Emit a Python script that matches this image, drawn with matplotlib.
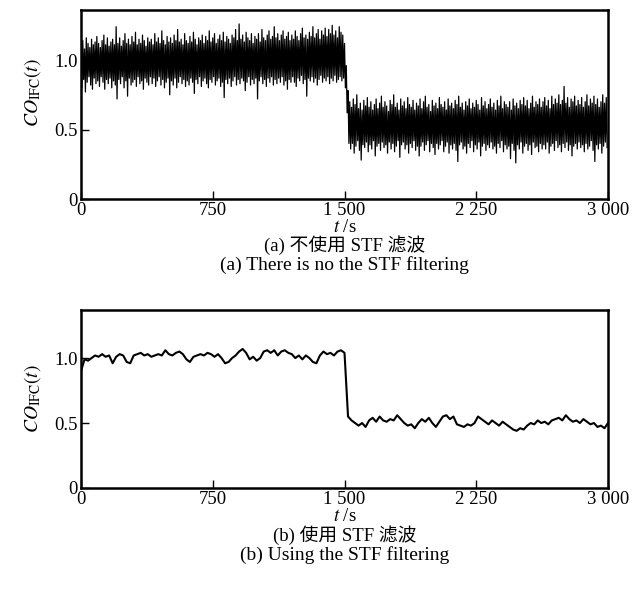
import matplotlib

matplotlib.use("Agg")
import matplotlib.pyplot as plt
import numpy as np

plt.rcParams["font.family"] = ["Liberation Serif", "Noto Sans CJK SC"]
plt.rcParams["mathtext.fontset"] = "stix"

# raw CO_IFC(t): upper / lower extent of the trace in consecutive 10 s bins
BIN = 10.0
raw_hi = [
    # 0 - 1490 s
    1.10, 1.14, 1.08, 1.16, 1.12, 1.09, 1.15, 1.11, 1.13, 1.17,
    1.12, 1.09, 1.14, 1.18, 1.11, 1.16, 1.10, 1.13, 1.15, 1.11,
    1.24, 1.12, 1.16, 1.10, 1.14, 1.19, 1.12, 1.15, 1.11, 1.17,
    1.13, 1.20, 1.11, 1.15, 1.12, 1.18, 1.14, 1.10, 1.16, 1.13,
    1.15, 1.11, 1.19, 1.13, 1.16, 1.12, 1.21, 1.14, 1.11, 1.17,
    1.13, 1.16, 1.12, 1.18, 1.14, 1.22, 1.13, 1.15, 1.11, 1.19,
    1.14, 1.12, 1.17, 1.13, 1.20, 1.15, 1.11, 1.16, 1.14, 1.18,
    1.12, 1.17, 1.14, 1.21, 1.13, 1.16, 1.19, 1.12, 1.15, 1.18,
    1.14, 1.20, 1.13, 1.17, 1.15, 1.12, 1.18, 1.16, 1.22, 1.14,
    1.26, 1.15, 1.18, 1.13, 1.20, 1.16, 1.14, 1.19, 1.12, 1.17,
    1.15, 1.19, 1.13, 1.22, 1.16, 1.14, 1.18, 1.21, 1.15, 1.17,
    1.24, 1.16, 1.19, 1.14, 1.18, 1.21, 1.15, 1.17, 1.20, 1.14,
    1.18, 1.15, 1.21, 1.17, 1.14, 1.19, 1.23, 1.16, 1.18, 1.15,
    1.20, 1.17, 1.24, 1.16, 1.19, 1.22, 1.15, 1.21, 1.18, 1.23,
    1.17, 1.22, 1.19, 1.25, 1.18, 1.21, 1.16, 1.24, 1.20, 1.18,
    # 1500 - 1520 s
    1.12, 0.96, 0.78,
    # 1530 - 2990 s
    0.70, 0.66, 0.72, 0.68, 0.75, 0.65, 0.69, 0.64, 0.71, 0.67,
    0.73, 0.66, 0.70, 0.64, 0.68, 0.72, 0.65, 0.69, 0.74, 0.66,
    0.70, 0.67, 0.63, 0.71, 0.68, 0.75, 0.66, 0.69, 0.64, 0.72,
    0.67, 0.70, 0.65, 0.73, 0.68, 0.66, 0.71, 0.64, 0.69, 0.67,
    0.72, 0.65, 0.70, 0.74, 0.66, 0.68, 0.63, 0.71, 0.67, 0.69,
    0.65, 0.73, 0.68, 0.66, 0.70, 0.64, 0.72, 0.67, 0.69, 0.65,
    0.71, 0.68, 0.74, 0.66, 0.69, 0.64, 0.70, 0.67, 0.72, 0.65,
    0.69, 0.66, 0.71, 0.68, 0.64, 0.73, 0.67, 0.70, 0.65, 0.68,
    0.72, 0.66, 0.69, 0.64, 0.71, 0.67, 0.74, 0.65, 0.70, 0.68,
    0.66, 0.70, 0.64, 0.72, 0.67, 0.69, 0.65, 0.71, 0.68, 0.73,
    0.67, 0.71, 0.65, 0.69, 0.74, 0.66, 0.70, 0.68, 0.72, 0.66,
    0.70, 0.73, 0.67, 0.71, 0.65, 0.74, 0.68, 0.72, 0.69, 0.75,
    0.68, 0.71, 0.81, 0.69, 0.73, 0.66, 0.72, 0.70, 0.74, 0.67,
    0.71, 0.68, 0.73, 0.66, 0.70, 0.75, 0.67, 0.72, 0.69, 0.74,
    0.68, 0.72, 0.66, 0.70, 0.75, 0.69, 0.73,
]
raw_lo = [
    # 0 - 1490 s
    0.80, 0.86, 0.77, 0.84, 0.88, 0.82, 0.79, 0.87, 0.83, 0.85,
    0.81, 0.88, 0.84, 0.79, 0.86, 0.83, 0.87, 0.80, 0.85, 0.82,
    0.72, 0.86, 0.83, 0.88, 0.80, 0.85, 0.74, 0.87, 0.82, 0.84,
    0.86, 0.81, 0.88, 0.83, 0.85, 0.79, 0.87, 0.84, 0.82, 0.88,
    0.83, 0.87, 0.81, 0.85, 0.88, 0.82, 0.86, 0.80, 0.84, 0.87,
    0.75, 0.85, 0.82, 0.87, 0.80, 0.84, 0.88, 0.83, 0.86, 0.81,
    0.85, 0.82, 0.87, 0.84, 0.76, 0.86, 0.83, 0.88, 0.81, 0.85,
    0.87, 0.83, 0.80, 0.86, 0.84, 0.88, 0.82, 0.85, 0.87, 0.81,
    0.84, 0.73, 0.86, 0.83, 0.87, 0.81, 0.85, 0.88, 0.82, 0.86,
    0.83, 0.87, 0.85, 0.78, 0.84, 0.88, 0.82, 0.86, 0.83, 0.87,
    0.72, 0.85, 0.88, 0.83, 0.86, 0.81, 0.87, 0.84, 0.88, 0.82,
    0.86, 0.83, 0.87, 0.84, 0.88, 0.82, 0.85, 0.79, 0.86, 0.84,
    0.88, 0.84, 0.81, 0.87, 0.85, 0.89, 0.83, 0.86, 0.74, 0.87,
    0.85, 0.88, 0.84, 0.87, 0.82, 0.86, 0.89, 0.84, 0.87, 0.85,
    0.88, 0.83, 0.87, 0.85, 0.89, 0.84, 0.86, 0.88, 0.85, 0.87,
    # 1500 - 1520 s
    0.80, 0.62, 0.40,
    # 1530 - 2990 s
    0.36, 0.40, 0.33, 0.38, 0.42, 0.35, 0.28, 0.39, 0.37, 0.41,
    0.34, 0.39, 0.36, 0.42, 0.31, 0.38, 0.40, 0.35, 0.41, 0.37,
    0.39, 0.33, 0.41, 0.36, 0.40, 0.34, 0.38, 0.42, 0.30, 0.39,
    0.41, 0.36, 0.39, 0.33, 0.40, 0.37, 0.42, 0.35, 0.38, 0.31,
    0.38, 0.41, 0.35, 0.39, 0.42, 0.34, 0.40, 0.37, 0.32, 0.40,
    0.36, 0.39, 0.42, 0.34, 0.38, 0.41, 0.33, 0.39, 0.36, 0.40,
    0.35, 0.27, 0.39, 0.41, 0.36, 0.38, 0.33, 0.40, 0.37, 0.42,
    0.34, 0.39, 0.36, 0.41, 0.31, 0.38, 0.40, 0.35, 0.39, 0.37,
    0.41, 0.36, 0.38, 0.33, 0.40, 0.37, 0.42, 0.34, 0.39, 0.36,
    0.38, 0.29, 0.40, 0.35, 0.26, 0.39, 0.36, 0.41, 0.33, 0.38,
    0.40, 0.35, 0.39, 0.32, 0.41, 0.37, 0.38, 0.34, 0.40, 0.36,
    0.39, 0.36, 0.41, 0.33, 0.38, 0.40, 0.35, 0.42, 0.37, 0.39,
    0.34, 0.40, 0.37, 0.41, 0.35, 0.39, 0.31, 0.38, 0.40, 0.36,
    0.41, 0.37, 0.39, 0.34, 0.40, 0.36, 0.38, 0.42, 0.35, 0.27,
    0.39, 0.36, 0.40, 0.33, 0.38, 0.41, 0.37,
]

# STF-filtered CO_IFC(t), one sample every 20 s from 0 to 3000 s
STEP = 20.0
filtered = [
    0.90, 0.99, 0.98, 1.00, 1.02, 1.01, 1.03, 1.01, 1.02, 0.96,
    1.01, 1.03, 1.02, 0.97, 0.96, 1.02, 1.03, 1.04, 1.02, 1.03,
    1.01, 1.02, 1.03, 1.02, 1.06, 1.03, 1.02, 1.04, 1.05, 1.03,
    0.99, 0.97, 1.01, 1.02, 1.03, 1.02, 1.04, 1.03, 1.01, 1.03,
    1.00, 0.96, 0.97, 1.00, 1.02, 1.05, 1.07, 1.04, 0.99, 1.01,
    0.98, 1.00, 1.05, 1.06, 1.04, 1.06, 1.02, 1.05, 1.06, 1.04,
    1.03, 1.00, 1.02, 0.99, 1.02, 1.00, 0.97, 0.96, 1.02, 1.05,
    1.03, 1.04, 1.02, 1.05, 1.06, 1.04, 0.55, 0.52, 0.50, 0.48,
    0.50, 0.47, 0.52, 0.54, 0.51, 0.55, 0.52, 0.51, 0.53, 0.52,
    0.56, 0.53, 0.50, 0.48, 0.49, 0.46, 0.50, 0.53, 0.51, 0.54,
    0.50, 0.47, 0.51, 0.55, 0.56, 0.53, 0.55, 0.49, 0.48, 0.47,
    0.49, 0.48, 0.50, 0.55, 0.53, 0.51, 0.49, 0.52, 0.50, 0.48,
    0.51, 0.49, 0.47, 0.45, 0.44, 0.46, 0.45, 0.48, 0.50, 0.49,
    0.52, 0.50, 0.51, 0.49, 0.52, 0.53, 0.54, 0.52, 0.56, 0.53,
    0.51, 0.52, 0.50, 0.53, 0.51, 0.49, 0.50, 0.47, 0.48, 0.46,
    0.50,
]

x_ticks = [0, 750, 1500, 2250, 3000]
x_tick_labels = ["0", "750", "1 500", "2 250", "3 000"]
y_ticks = [0, 0.5, 1.0]
y_tick_labels = ["0", "0.5", "1.0"]

captions_a = ["(a) 不使用 STF 滤波", "(a) There is no the STF filtering"]
captions_b = ["(b) 使用 STF 滤波", "(b) Using the STF filtering"]


def style_axes(ax, ytop, label_y):
    ax.set_xlim(0, 3000)
    ax.set_ylim(0, ytop)
    ax.set_xticks(x_ticks, x_tick_labels)
    ax.set_yticks(y_ticks, y_tick_labels)
    ax.tick_params(direction="in", length=6, width=1.0, labelsize=13.5, pad=2.5)
    for spine in ax.spines.values():
        spine.set_linewidth(1.8)
    ax.set_xlabel("$t$ /s", fontsize=13.5, labelpad=0)
    ax.set_ylabel(r"$CO_{\mathrm{IFC}}(t)$", fontsize=14)
    ax.yaxis.set_label_coords(-0.072, label_y)


def main() -> None:
    fig = plt.figure(figsize=(6.4, 5.9), dpi=100)
    ax_a = fig.add_axes([0.1266, 0.6627, 0.8234, 0.3203])
    ax_b = fig.add_axes([0.1266, 0.1729, 0.8234, 0.3017])

    # raw trace: zig-zag between the bin maxima and minima
    t_bin = np.arange(len(raw_hi)) * BIN
    t_raw = np.column_stack([t_bin, t_bin + BIN / 2]).ravel()
    v_raw = np.column_stack([raw_hi, raw_lo]).ravel()
    ax_a.plot(t_raw, v_raw, color="black", lw=0.9)
    style_axes(ax_a, 1.36, 0.565)

    t_f = np.arange(len(filtered)) * STEP
    ax_b.plot(t_f, filtered, color="black", lw=1.5)
    style_axes(ax_b, 1.37, 0.5)

    cx = 0.538
    fig.text(cx, 1 - 245 / 590, captions_a[0], ha="center", va="center", fontsize=13.5)
    fig.text(cx, 1 - 265 / 590, captions_a[1], ha="center", va="center", fontsize=14)
    fig.text(cx, 1 - 535 / 590, captions_b[0], ha="center", va="center", fontsize=13.5)
    fig.text(cx, 1 - 555 / 590, captions_b[1], ha="center", va="center", fontsize=14)

    fig.savefig("out.png", dpi=100)
    plt.close(fig)


if __name__ == "__main__":
    main()
